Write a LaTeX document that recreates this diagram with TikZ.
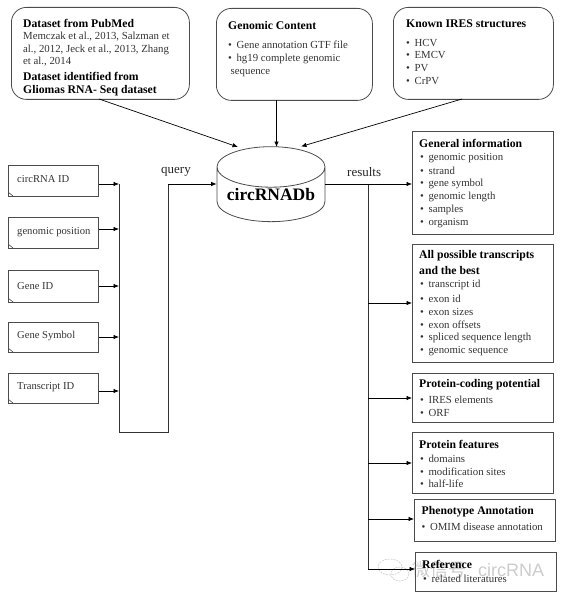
\documentclass[tikz,border=0pt]{standalone}
\usepackage{fontspec}
\setmainfont{Liberation Serif}
\newfontfamily\cjkwm{Noto Sans CJK SC}
\newfontfamily\wmsans{Liberation Sans}
\usetikzlibrary{arrows.meta,shapes.geometric}
\tikzset{
 x=1pt,y=-1pt,
 lc/.style={draw=black!70,line width=0.8pt},
 srcbox/.style={lc,rounded corners=15pt,anchor=north west,inner sep=0pt},
 inbox/.style={lc,anchor=north west,inner sep=0pt},
 resbox/.style={lc,anchor=north west,inner sep=0pt},
 arr/.style={black,line width=0.7pt,-{Latex[length=5.5pt,width=4.5pt]}},
 wire/.style={black!80,line width=0.9pt},
 lab/.style={font=\fontsize{13}{15}\selectfont,anchor=west,inner sep=0pt,text=black!85},
 txt/.style={font=\fontsize{10.8}{13}\selectfont,anchor=west,inner sep=0pt,text=black!80},
 inlab/.style={font=\fontsize{10.6}{12}\selectfont,anchor=west,inner sep=0pt,text=black!80},
 hd/.style={font=\fontsize{11.7}{13}\selectfont\bfseries,anchor=west,inner sep=0pt},
 bul/.style={font=\fontsize{10.8}{13}\selectfont,anchor=west,inner sep=0pt,text=black!80},
 wm/.style={anchor=west,inner sep=0pt,text=black!20,font=\fontsize{18}{20}\selectfont},
}
\newcommand{\blist}[3]{\node[bul] at (#1,#2) {•\hspace{4.6pt}#3};}
\begin{document}
\begin{tikzpicture}
\useasboundingbox (0,0) rectangle (570,599);
% watermark
\draw[black!18,line width=0.7pt,dash pattern=on 2pt off 1pt] (390,567) ellipse [x radius=12,y radius=8];
\draw[black!18,line width=0.7pt,dash pattern=on 2pt off 1pt] (400,574) ellipse [x radius=9,y radius=7];
\node[wm] at (412,570) {{\cjkwm 微信号}};
\node[wm] at (478,570) {{\wmsans circRNA}};
% source boxes
\node[srcbox,minimum width=178pt,minimum height=92pt] (s1) at (11,7) {};
\node[srcbox,minimum width=156pt,minimum height=92pt] (s2) at (216,8) {};
\node[srcbox,minimum width=160pt,minimum height=92pt] (s3) at (393,7) {};
\node[hd] at (23,23) {Dataset from PubMed};
\node[txt] at (23,36.7) {Memczak et al., 2013, Salzman et};
\node[txt] at (23,50) {al., 2012, Jeck et al., 2013, Zhang};
\node[txt] at (23,62) {et al., 2014};
\node[hd] at (23,76.7) {Dataset identified from};
\node[hd] at (23,90.7) {Gliomas RNA- Seq dataset};
\node[hd] at (228,25) {Genomic Content};
\blist{228}{45}{Gene annotation GTF file}
\blist{228}{59}{hg19 complete genomic}
\node[txt] at (230.5,73) {sequence};
\node[hd] at (406,23.5) {Known IRES structures};
\blist{406}{42.7}{HCV}
\blist{406}{55}{EMCV}
\blist{406}{67.7}{PV}
\blist{406}{81.5}{CrPV}
% database
\node[cylinder,shape border rotate=90,aspect=0.46,lc,fill=white,minimum width=108pt,minimum height=75pt,inner sep=0pt,anchor=center,font=\fontsize{17.5}{20}\selectfont\bfseries] (db) at (271,194.5) {circRNADb};
% input boxes
\foreach \n/\yy/\hh/\ty/\t in {i1/165/31/179/circRNA ID,i2/217/31/232/genomic position,i3/270/32/286/Gene ID,i4/322/30/336/Gene Symbol,i5/373/30/387/Transcript ID}{
 \node[inbox,minimum width=90pt,minimum height=\hh pt] (\n) at (8,\yy) {};
 \node[inlab] at (17,\ty) {\t};
 \draw[lc,line width=0.6pt] (8,\yy+\hh-4) -- (13,\yy+\hh);
}
% query wiring
\coordinate (busT) at (119,184);
\coordinate (busB) at (119,432);
\coordinate (upB) at (168,432);
\coordinate (upT) at (168,184);
\draw[wire] (busT) -- (busB) -- (upB) -- (upT);
\draw[arr] (upT) -- (db.west |- upT);
\foreach \n/\yy in {i1/184,i2/229,i3/286,i4/337,i5/391}{
 \coordinate (c\n) at (119,\yy);
 \draw[arr] (\n.east |- c\n) -- (c\n);
}
\node[lab] at (161,172) {query};
\node[lab] at (347,172) {results};
% source arrows
\coordinate (a1) at (99,99);\coordinate (t1) at (238,147);
\coordinate (a2) at (276.5,100);\coordinate (t2) at (276.5,147);
\coordinate (a3) at (462,99);\coordinate (t3) at (301,146.5);
\draw[arr] (a1) -- (t1);
\draw[arr] (a2) -- (t2);
\draw[arr] (a3) -- (t3);
% result boxes
\node[resbox,minimum width=141pt,minimum height=103pt] (r1) at (412,131) {};
\node[resbox,minimum width=141pt,minimum height=118pt] (r2) at (412,244) {};
\node[resbox,minimum width=141pt,minimum height=49pt] (r3) at (412,373) {};
\node[resbox,minimum width=141pt,minimum height=61pt] (r4) at (412,432) {};
\node[resbox,minimum width=141pt,minimum height=42pt] (r5) at (414,499) {};
\node[resbox,minimum width=141pt,minimum height=39pt] (r6) at (415,552) {};
\coordinate (rT) at (368,184);
\coordinate (rB) at (368,569);
\draw[wire] (rT) -- (rB);
\draw[arr] (db.east |- rT) -- (r1.west |- rT);
\foreach \n/\yy in {r2/303,r3/398,r4/463,r5/519,r6/569}{
 \coordinate (c\n) at (368,\yy);
 \draw[arr] (c\n) -- (\n.west |- c\n);
}
\node[hd] at (419,143) {General information};
\foreach \yy/\t in {158/genomic position,171/strand,184/gene symbol,197/genomic length,210/samples,223/organism}{\blist{420}{\yy}{\t}}
\node[hd] at (419,256) {All possible transcripts};
\node[hd] at (419,270) {and the best};
\foreach \yy/\t in {285/transcript id,299/exon id,312/exon sizes,325/exon offsets,338/spliced sequence length,351/genomic sequence}{\blist{420}{\yy}{\t}}
\node[hd] at (419,385) {Protein-coding potential};
\blist{420}{400}{IRES elements}
\blist{420}{413}{ORF}
\node[hd] at (419,444) {Protein features};
\blist{420}{459}{domains}
\blist{420}{472}{modification sites}
\blist{420}{484}{half-life}
\node[hd] at (421.5,512) {Phenotype Annotation};
\blist{421.5}{527}{OMIM disease annotation}
\node[hd] at (422,564) {Reference};
\blist{423}{579}{related literatures}
\end{tikzpicture}
\end{document}
